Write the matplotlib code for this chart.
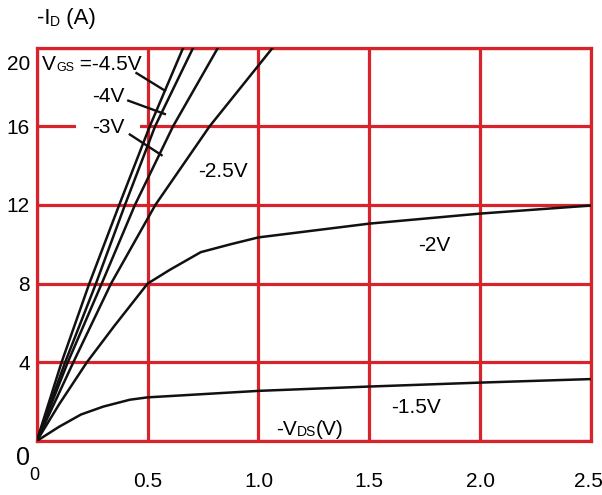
import matplotlib
matplotlib.use("Agg")
import matplotlib.pyplot as plt
import matplotlib.transforms as mtransforms

plt.rcParams['font.family'] = ['Liberation Sans', 'DejaVu Sans']

# ---- data ----
vds_m45 = [0, 0.112, 0.237, 0.372, 0.51, 0.661]
id_m45 = [0, 4, 8, 12, 16, 20]
vds_m4 = [0, 0.128, 0.267, 0.398, 0.534, 0.706]
id_m4 = [0, 4, 8, 12, 16, 20]
vds_m3 = [0, 0.14, 0.293, 0.443, 0.615, 0.818]
id_m3 = [0, 4, 8, 12, 16, 20]
vds_m25 = [0, 0.165, 0.335, 0.535, 0.78, 1.065]
id_m25 = [0, 4, 8, 12, 16, 20]
vds_m2 = [0, 0.1, 0.226, 0.35, 0.5, 0.6, 0.74, 0.874, 1.0, 1.5, 2.0, 2.5]
id_m2 = [0, 1.85, 4.0, 5.85, 8.0, 8.7, 9.6, 10.0, 10.35, 11.05, 11.56, 11.97]
vds_m15 = [0, 0.1, 0.2, 0.3, 0.42, 0.5, 1.0, 1.5, 2.0, 2.5]
id_m15 = [0, 0.72, 1.35, 1.75, 2.1, 2.22, 2.55, 2.77, 2.97, 3.15]

x_ticks = [0, 0.5, 1.0, 1.5, 2.0, 2.5]
x_ticklabels = ["0", "0.5", "1.0", "1.5", "2.0", "2.5"]
y_ticks = [0, 4, 8, 12, 16, 20]
y_ticklabels = ["0", "4", "8", "12", "16", "20"]

RED = '#d7242c'
FS = 15

fig = plt.figure(figsize=(6.02, 4.95), dpi=100)
ax = fig.add_axes([0.061, 0.109, 0.9208, 0.795])
ax.set_xlim(0, 2.5)
ax.set_ylim(0, 20)

ax.set_axisbelow(True)
ax.grid(True, color=RED, linewidth=2.3)
for s in ax.spines.values():
    s.set_color(RED)
    s.set_linewidth(2.3)

ax.set_xticks(x_ticks)
ax.set_xticklabels(x_ticklabels, fontsize=FS)
ax.set_yticks(y_ticks)
ax.set_yticklabels(y_ticklabels, fontsize=FS)
ax.tick_params(axis='both', length=0)
ax.tick_params(axis='x', pad=22)
ax.tick_params(axis='y', pad=5)

# special tick label tweaks
xl = ax.get_xticklabels()
xl[0].set_fontsize(13)
xl[0].set_transform(xl[0].get_transform() +
                    mtransforms.ScaledTranslation(-0.02, 0.05, fig.dpi_scale_trans))
xl[-1].set_transform(xl[-1].get_transform() +
                     mtransforms.ScaledTranslation(-0.03, 0.0, fig.dpi_scale_trans))
yl = ax.get_yticklabels()
yl[0].set_fontsize(18)
yl[0].set_transform(yl[0].get_transform() +
                    mtransforms.ScaledTranslation(0.0, -0.14, fig.dpi_scale_trans))
yl[-1].set_transform(yl[-1].get_transform() +
                     mtransforms.ScaledTranslation(0.0, -0.15, fig.dpi_scale_trans))

# curves
for xs, ys in [(vds_m45, id_m45), (vds_m4, id_m4), (vds_m3, id_m3),
               (vds_m25, id_m25), (vds_m2, id_m2), (vds_m15, id_m15)]:
    ax.plot(xs, ys, color='#111111', linewidth=1.8, zorder=4, clip_on=True,
            solid_joinstyle='round')

# leader lines
leaders = [((0.450, 18.70), (0.578, 17.81)),
           ((0.413, 17.30), (0.578, 16.62)),
           ((0.420, 15.58), (0.563, 14.53))]
for (x0, y0), (x1, y1) in leaders:
    ax.plot([x0, x1], [y0, y1], color='#111111', linewidth=1.7, zorder=4)


def multi_text(x, y, parts, **kw):
    """parts: list of (string, fontsize)"""
    t = ax.text(x, y, parts[0][0], fontsize=parts[0][1], ha='left', va='center',
                zorder=3, clip_on=False, **kw)
    prev = t
    for s, fs in parts[1:]:
        prev = ax.annotate(s, xy=(1, 0), xycoords=prev, ha='left', va='bottom',
                           fontsize=fs, zorder=3, annotation_clip=False)
    return t


# labels
multi_text(0.0, 21.5, [("-I", FS + 1), ("D", 10), (" (A)", FS + 1)])
multi_text(0.024, 19.14, [("V", FS), ("GS", 9), (" =-4.5V", FS)])
ax.text(0.249, 17.5, "-4V", fontsize=FS, ha='left', va='center', zorder=3)
ax.text(0.249, 15.93, "-3V", fontsize=FS, ha='left', va='center', zorder=3,
        bbox=dict(boxstyle='square,pad=0.75', facecolor='white', edgecolor='none'))
ax.text(0.727, 13.72, "-2.5V", fontsize=FS, ha='left', va='center', zorder=3)
ax.text(1.718, 9.92, "-2V", fontsize=FS, ha='left', va='center', zorder=3)
ax.text(1.60, 1.70, "-1.5V", fontsize=FS, ha='left', va='center', zorder=3)
multi_text(1.08, 0.6, [("-V", FS), ("DS", 10), ("(V)", FS)])

fig.savefig("out.png", dpi=100)
